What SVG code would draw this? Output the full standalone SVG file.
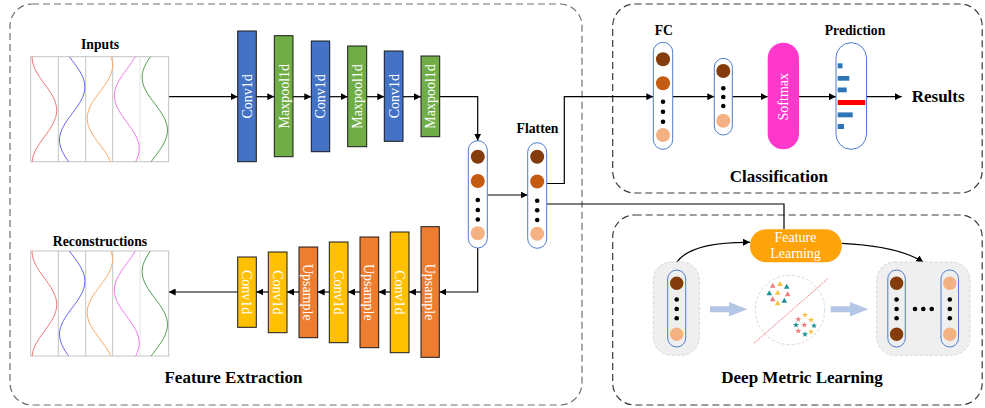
<svg xmlns="http://www.w3.org/2000/svg" xmlns:xlink="http://www.w3.org/1999/xlink" width="985" height="408" viewBox="0 0 985 408">
  <style>
    .panel { fill: none; stroke-width: 1.2; stroke-dasharray: 7 4; }
    .lbl { font-family: "Liberation Serif", "Times New Roman", serif; font-weight: bold; fill: #000; }
    .blk { font-family: "Liberation Serif", "Times New Roman", serif; font-size: 14px; fill: #fff; text-anchor: middle; }
    .conv { fill: #4472C4; stroke: #1a1a1a; stroke-width: 1; }
    .pool { fill: #70AD47; stroke: #1a1a1a; stroke-width: 1; }
    .yel { fill: #FFC000; stroke: #1a1a1a; stroke-width: 1; }
    .ups { fill: #ED7D31; stroke: #1a1a1a; stroke-width: 1; }
    .pill { fill: #fff; stroke: #4F7BD0; stroke-width: 1; }
    .pillg { fill: none; stroke: #4F7BD0; stroke-width: 1; }
    .c1 { fill: #843C0C; }
    .c2 { fill: #C55A11; }
    .c3 { fill: #F4B183; }
    .dot { fill: #000; }
    .wire { fill: none; stroke: #000; stroke-width: 1.2; }
    .grid { fill: #fff; stroke: #C4C4C4; stroke-width: 1; }
    .wave { fill: none; stroke-width: 1; }
    .bar { fill: #2E75B6; }
    .grp { fill: #EFEFEF; stroke: #D6D6D6; stroke-width: 1; stroke-dasharray: 3 2; }
    .fat { fill: #B4C7E7; }
  </style>
  <defs>
    <marker id="arrow" viewBox="0 0 8 8" refX="8" refY="4" markerWidth="7" markerHeight="7" markerUnits="userSpaceOnUse" orient="auto">
      <path d="M0,0 L8,4 L0,8 z" fill="#000"/>
    </marker>
    <!-- one sine trace, maximum at y=0, three periods long -->
    <path id="wave" d="M12.7,-106 c0,9.59 -6.19,17.86 -12.7,26.5 c-6.51,8.64 -12.7,16.91 -12.7,26.5 c0,9.59 6.19,17.86 12.7,26.5 c6.51,8.64 12.7,16.91 12.7,26.5 c0,9.59 -6.19,17.86 -12.7,26.5 c-6.51,8.64 -12.7,16.91 -12.7,26.5 c0,9.59 6.19,17.86 12.7,26.5 c6.51,8.64 12.7,16.91 12.7,26.5 c0,9.59 -6.19,17.86 -12.7,26.5 c-6.51,8.64 -12.7,16.91 -12.7,26.5 c0,9.59 6.19,17.86 12.7,26.5 c6.51,8.64 12.7,16.91 12.7,26.5"/>
    <clipPath id="sigclip">
      <rect x="30.7" y="56.7" width="138" height="105"/>
    </clipPath>
    <!-- five-channel signal chart -->
    <g id="signals">
      <rect class="grid" x="30.7" y="56.7" width="138" height="105"/>
      <path d="M58.3,56.7 V161.7 M85.7,56.7 V161.7 M112.7,56.7 V161.7" stroke="#C4C4C4" stroke-width="1"/>
      <path d="M140,56.7 V161.7" stroke="#E4E4E4" stroke-width="1"/>
      <g clip-path="url(#sigclip)">
        <use xlink:href="#wave" class="wave" stroke="#F07575" transform="translate(44.4,110.3) scale(0.97,1)"/>
        <use xlink:href="#wave" class="wave" stroke="#6464F2" transform="translate(72.2,87)"/>
        <use xlink:href="#wave" class="wave" stroke="#F9AA66" transform="translate(99.9,65.3)"/>
        <use xlink:href="#wave" class="wave" stroke="#F078F0" transform="translate(126.8,148.7) scale(0.98,1)"/>
        <use xlink:href="#wave" class="wave" stroke="#4E9E4E" transform="translate(154.8,130.3)"/>
      </g>
    </g>
    <path id="tri" d="M0,-3 L2.8,2 L-2.8,2 z"/>
    <path id="star" d="M0,-3.2 L0.76,-1.05 L3.04,-0.99 L1.24,0.4 L1.88,2.59 L0,1.3 L-1.88,2.59 L-1.24,0.4 L-3.04,-0.99 L-0.76,-1.05 z"/>
  </defs>

  <!-- panels -->
  <rect class="panel" stroke="#707070" x="10" y="4" width="572" height="401" rx="22"/>
  <rect class="panel" stroke="#3a3a3a" x="612.7" y="4" width="369.5" height="189" rx="22"/>
  <rect class="panel" stroke="#3a3a3a" x="612.7" y="215" width="369.5" height="190" rx="22"/>

  <!-- connectors -->
  <g id="connectors" class="wire">
    <path d="M168.7,96.7 H237.7" marker-end="url(#arrow)"/>
    <path d="M256.3,96.7 H274.3" marker-end="url(#arrow)"/>
    <path d="M293,96.7 H311.3" marker-end="url(#arrow)"/>
    <path d="M329.7,96.7 H347.7" marker-end="url(#arrow)"/>
    <path d="M366.7,96.7 H384.3" marker-end="url(#arrow)"/>
    <path d="M403,96.7 H421" marker-end="url(#arrow)"/>
    <path d="M439.7,96.7 H477.7 V140.7" marker-end="url(#arrow)"/>
    <path d="M487.3,195 H527.7" marker-end="url(#arrow)"/>
    <path d="M477.7,248 V292 H439.3" marker-end="url(#arrow)"/>
    <path d="M421,292 H409" marker-end="url(#arrow)"/>
    <path d="M390.3,292 H378.7" marker-end="url(#arrow)"/>
    <path d="M360,292 H348" marker-end="url(#arrow)"/>
    <path d="M329.3,292 H317.7" marker-end="url(#arrow)"/>
    <path d="M299,292 H287" marker-end="url(#arrow)"/>
    <path d="M268.3,292 H256.3" marker-end="url(#arrow)"/>
    <path d="M237.7,292 H168.7" marker-end="url(#arrow)"/>
    <path d="M546.7,183.5 H564.3 V96.7 H653.3" marker-end="url(#arrow)"/>
    <path d="M546.7,204 H784 V229.3"/>
    <path d="M672.7,96.7 H714.3" marker-end="url(#arrow)"/>
    <path d="M732.3,96.7 H767.7" marker-end="url(#arrow)"/>
    <path d="M799,96.7 H836" marker-end="url(#arrow)"/>
    <path d="M866.7,96.7 H901.7" marker-end="url(#arrow)"/>
    <path d="M676.7,262.3 C688,246 718,242 750,242.3" marker-end="url(#arrow)"/>
    <path d="M841.7,243.3 C878,245 905,250 923.3,262.3" marker-end="url(#arrow)"/>
  </g>

  <!-- encoder / decoder -->
  <g id="inputs">
    <use xlink:href="#signals"/>
    <text class="lbl" x="100" y="49" font-size="13.7" text-anchor="middle">Inputs</text>
  </g>
  <g id="reconstructions">
    <use xlink:href="#signals" transform="translate(0,194.3)"/>
    <text class="lbl" x="100" y="245.7" font-size="13.7" text-anchor="middle">Reconstructions</text>
  </g>

  <g id="enc-conv1"><rect class="conv" x="237.7" y="31" width="18.6" height="130.7"/><text class="blk" transform="translate(247,96.4) rotate(-90)" dy="0.35em">Conv1d</text></g>
  <g id="enc-pool1"><rect class="pool" x="274.3" y="35.7" width="18.7" height="121"/><text class="blk" transform="translate(283.7,96.2) rotate(-90)" dy="0.35em">Maxpool1d</text></g>
  <g id="enc-conv2"><rect class="conv" x="311.3" y="41" width="18.4" height="110.7"/><text class="blk" transform="translate(320.5,96.4) rotate(-90)" dy="0.35em">Conv1d</text></g>
  <g id="enc-pool2"><rect class="pool" x="347.7" y="46" width="19" height="100.7"/><text class="blk" transform="translate(357.2,96.4) rotate(-90)" dy="0.35em">Maxpool1d</text></g>
  <g id="enc-conv3"><rect class="conv" x="384.3" y="51" width="18.7" height="90.3"/><text class="blk" transform="translate(393.7,96.2) rotate(-90)" dy="0.35em">Conv1d</text></g>
  <g id="enc-pool3"><rect class="pool" x="421" y="56" width="18.7" height="80.7"/><text class="blk" transform="translate(430.3,96.4) rotate(-90)" dy="0.35em">Maxpool1d</text></g>

  <g id="dec-up1"><rect class="ups" x="421" y="226.7" width="18.3" height="130.6"/><text class="blk" transform="translate(430.2,292) rotate(90)" dy="0.35em">Upsample</text></g>
  <g id="dec-conv1"><rect class="yel" x="390.3" y="232" width="18.7" height="120.7"/><text class="blk" transform="translate(399.7,292.3) rotate(90)" dy="0.35em">Conv1d</text></g>
  <g id="dec-up2"><rect class="ups" x="360" y="237" width="18.7" height="110.7"/><text class="blk" transform="translate(369.3,292.3) rotate(90)" dy="0.35em">Upsample</text></g>
  <g id="dec-conv2"><rect class="yel" x="329.3" y="242" width="18.7" height="100.7"/><text class="blk" transform="translate(338.7,292.3) rotate(90)" dy="0.35em">Conv1d</text></g>
  <g id="dec-up3"><rect class="ups" x="299" y="247" width="18.7" height="90.7"/><text class="blk" transform="translate(308.3,292.3) rotate(90)" dy="0.35em">Upsample</text></g>
  <g id="dec-conv3"><rect class="yel" x="268.3" y="252" width="18.7" height="80.7"/><text class="blk" transform="translate(277.7,292.3) rotate(90)" dy="0.35em">Conv1d</text></g>
  <g id="dec-conv4"><rect class="yel" x="237.7" y="257" width="18.6" height="70.3"/><text class="blk" transform="translate(247,292.2) rotate(90)" dy="0.35em">Conv1d</text></g>

  <text class="lbl" x="233.5" y="383.3" font-size="17" text-anchor="middle">Feature Extraction</text>

  <!-- latent vectors -->
  <g id="latent">
    <rect class="pill" x="468.3" y="140.7" width="19" height="107.3" rx="9.5"/>
    <circle class="c1" cx="477.8" cy="156.7" r="7"/>
    <circle class="c2" cx="477.8" cy="181" r="7"/>
    <circle class="dot" cx="477.8" cy="200" r="2.3"/>
    <circle class="dot" cx="477.8" cy="210" r="2.3"/>
    <circle class="dot" cx="477.8" cy="219.5" r="2.3"/>
    <circle class="c3" cx="477.8" cy="233.3" r="7"/>
  </g>
  <g id="flatten">
    <rect class="pill" x="527.7" y="142.7" width="19" height="105.6" rx="9.5"/>
    <circle class="c1" cx="537.2" cy="156.7" r="7"/>
    <circle class="c2" cx="537.2" cy="181.5" r="7"/>
    <circle class="dot" cx="537.2" cy="200.7" r="2.3"/>
    <circle class="dot" cx="537.2" cy="210.3" r="2.3"/>
    <circle class="dot" cx="537.2" cy="220" r="2.3"/>
    <circle class="c3" cx="537.2" cy="233.7" r="7"/>
    <text class="lbl" x="537.5" y="133.3" font-size="13.7" text-anchor="middle">Flatten</text>
  </g>

  <!-- classification -->
  <g id="fc1">
    <rect class="pill" x="653.3" y="42.3" width="19.4" height="107" rx="9.7"/>
    <circle class="c1" cx="663" cy="59.3" r="7"/>
    <circle class="c2" cx="663" cy="83.3" r="7"/>
    <circle class="dot" cx="663" cy="101.7" r="2.3"/>
    <circle class="dot" cx="663" cy="111.7" r="2.3"/>
    <circle class="dot" cx="663" cy="121.7" r="2.3"/>
    <circle class="c3" cx="663" cy="135" r="7"/>
    <text class="lbl" x="663.8" y="35" font-size="13.7" text-anchor="middle">FC</text>
  </g>
  <g id="fc2">
    <rect class="pill" x="714.3" y="58.3" width="18" height="76.7" rx="9"/>
    <circle class="c1" cx="723.3" cy="71" r="7"/>
    <circle class="dot" cx="723.3" cy="88.3" r="2.3"/>
    <circle class="dot" cx="723.3" cy="97" r="2.3"/>
    <circle class="dot" cx="723.3" cy="106" r="2.3"/>
    <circle class="c3" cx="723.3" cy="120.7" r="7"/>
  </g>
  <g id="softmax">
    <rect x="767.7" y="42.7" width="31.3" height="106.6" rx="15.6" fill="#FF38CC"/>
    <text class="blk" transform="translate(783.3,96.7) rotate(-90)" dy="0.35em">Softmax</text>
  </g>
  <g id="prediction">
    <rect class="pill" x="836" y="42.7" width="30.5" height="106.6" rx="15.2"/>
    <rect class="bar" x="837.7" y="63.3" width="4.8" height="5"/>
    <rect class="bar" x="837.7" y="76" width="11.6" height="4.7"/>
    <rect class="bar" x="837.7" y="87.5" width="9" height="4.8"/>
    <rect x="837.7" y="100" width="27.6" height="5" fill="#FF0000"/>
    <rect class="bar" x="837.7" y="112.4" width="15" height="4.9"/>
    <rect class="bar" x="837.7" y="124" width="6.3" height="5"/>
    <text class="lbl" x="855" y="35" font-size="13.7" text-anchor="middle">Prediction</text>
  </g>
  <g id="results">
    <text class="lbl" x="911.7" y="101.5" font-size="17">Results</text>
  </g>
  <text class="lbl" x="778.8" y="181.7" font-size="17" text-anchor="middle">Classification</text>

  <!-- deep metric learning -->
  <g id="feature-learning">
    <rect x="750" y="229.3" width="91.7" height="33" rx="16" fill="#FFA30A"/>
    <text class="blk" x="795.5" y="241.7" font-size="14">Feature</text>
    <text class="blk" x="795.5" y="258.3" font-size="14">Learning</text>
  </g>
  <g id="embed-in">
    <rect class="grp" x="653.3" y="262" width="46" height="93.3" rx="18"/>
    <rect class="pillg" x="667.7" y="270" width="18" height="77" rx="9"/>
    <circle class="c1" cx="676.7" cy="283.3" r="6.7"/>
    <circle class="dot" cx="676.7" cy="299.5" r="2.3"/>
    <circle class="dot" cx="676.7" cy="309" r="2.3"/>
    <circle class="dot" cx="676.7" cy="318.3" r="2.3"/>
    <circle class="c3" cx="676.7" cy="334.3" r="6.7"/>
  </g>
  <polygon class="fat" points="710,306.3 729,306.3 729,302 747.3,309.3 729,316.6 729,312.3 710,312.3"/>
  <g id="metric-space">
    <circle cx="790" cy="310" r="34.7" fill="none" stroke="#D8D8D8" stroke-width="1" stroke-dasharray="3 2"/>
    <path d="M754,343.3 L828.3,278.3" stroke="#EE6E6E" stroke-width="0.9" stroke-dasharray="2 1"/>
    <use xlink:href="#tri" fill="#F07B7B" x="772.7" y="285.7"/>
    <use xlink:href="#tri" fill="#F5C342" x="780" y="284"/>
    <use xlink:href="#tri" fill="#1F8F96" x="786.7" y="286.7"/>
    <use xlink:href="#tri" fill="#1F8F96" x="769.3" y="293.3"/>
    <use xlink:href="#tri" fill="#F5C342" x="777.7" y="292.7"/>
    <use xlink:href="#tri" fill="#F07B7B" x="787.7" y="294.3"/>
    <use xlink:href="#tri" fill="#F07B7B" x="772.7" y="299.3"/>
    <use xlink:href="#tri" fill="#1F8F96" x="784.3" y="300.7"/>
    <use xlink:href="#tri" fill="#F5C342" x="777.7" y="303.3"/>
    <use xlink:href="#star" fill="#F5C342" x="805" y="315"/>
    <use xlink:href="#star" fill="#F07B7B" x="798.3" y="319.3"/>
    <use xlink:href="#star" fill="#F5C342" x="811" y="320"/>
    <use xlink:href="#star" fill="#1F8F96" x="796" y="325"/>
    <use xlink:href="#star" fill="#F07B7B" x="804.3" y="325"/>
    <use xlink:href="#star" fill="#1F8F96" x="814" y="325.7"/>
    <use xlink:href="#star" fill="#F07B7B" x="798.3" y="331"/>
    <use xlink:href="#star" fill="#F5C342" x="811" y="331.7"/>
    <use xlink:href="#star" fill="#1F8F96" x="805" y="334.3"/>
  </g>
  <polygon class="fat" points="830.7,306.3 850,306.3 850,302 868.3,309.3 850,316.6 850,312.3 830.7,312.3"/>
  <g id="embed-out">
    <rect class="grp" x="876.7" y="262" width="93.3" height="93.3" rx="18"/>
    <rect class="pillg" x="887.8" y="270" width="17.5" height="77" rx="8.7"/>
    <circle class="c1" cx="896.6" cy="283.3" r="6.7"/>
    <circle class="dot" cx="896.6" cy="299.5" r="2.3"/>
    <circle class="dot" cx="896.6" cy="309" r="2.3"/>
    <circle class="dot" cx="896.6" cy="318.3" r="2.3"/>
    <circle class="c1" cx="896.6" cy="334.3" r="6.7"/>
    <circle class="dot" cx="915" cy="309" r="2.3"/>
    <circle class="dot" cx="923.3" cy="309" r="2.3"/>
    <circle class="dot" cx="931.7" cy="309" r="2.3"/>
    <rect class="pillg" x="941" y="270" width="17.5" height="77" rx="8.7"/>
    <circle class="c3" cx="949.8" cy="283.3" r="6.7"/>
    <circle class="dot" cx="949.8" cy="299.5" r="2.3"/>
    <circle class="dot" cx="949.8" cy="309" r="2.3"/>
    <circle class="dot" cx="949.8" cy="318.3" r="2.3"/>
    <circle class="c3" cx="949.8" cy="334.3" r="6.7"/>
  </g>
  <text class="lbl" x="802" y="383.3" font-size="17" text-anchor="middle">Deep Metric Learning</text>
</svg>
